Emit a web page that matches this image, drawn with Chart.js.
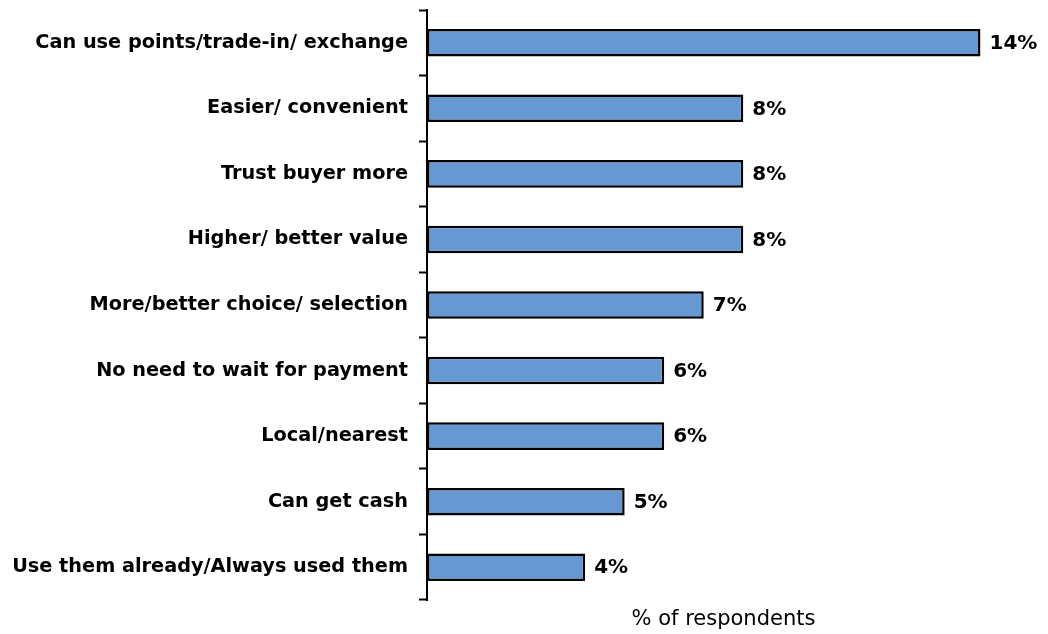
<!DOCTYPE html>
<html>
<head>
<meta charset="utf-8">
<script src="https://cdn.jsdelivr.net/npm/chart.js@4"></script>
<style>
    html, body { margin: 0; padding: 0; background: #ffffff; }
    #wrap { width: 1048px; height: 634px; }
</style>
</head>
<body>
<div id="wrap"><canvas id="reasonsChart"></canvas></div>
<script>
// Reasons for choosing the buyer (% of respondents)
const categories = [
    'Can use points/trade-in/ exchange',
    'Easier/ convenient',
    'Trust buyer more',
    'Higher/ better value',
    'More/better choice/ selection',
    'No need to wait for payment',
    'Local/nearest',
    'Can get cash',
    'Use them already/Always used them'
];
const shares = [14, 8, 8, 8, 7, 6, 6, 5, 4];
const axisTitle = '% of respondents';

const fontFamily = '"DejaVu Sans", Verdana, sans-serif';
const labelFont = 'bold 20px ' + fontFamily;

// Writes "N%" just past the end of each bar
const valueLabels = {
    id: 'valueLabels',
    afterDatasetsDraw(chart) {
        const ctx = chart.ctx;
        const meta = chart.getDatasetMeta(0);
        ctx.save();
        ctx.font = labelFont;
        ctx.fillStyle = '#000';
        ctx.textAlign = 'left';
        ctx.textBaseline = 'middle';
        meta.data.forEach((bar, i) => {
            ctx.fillText(shares[i] + '%', bar.x + 9, bar.y + 1);
        });
        ctx.restore();
    }
};

new Chart(document.getElementById('reasonsChart'), {
    type: 'bar',
    data: {
        labels: categories,
        datasets: [{
            data: shares,
            backgroundColor: '#6699d1',
            borderColor: '#000000',
            borderWidth: 2.5,
            borderSkipped: false,
            barPercentage: 0.42,
            categoryPercentage: 1
        }]
    },
    options: {
        indexAxis: 'y',
        responsive: true,
        maintainAspectRatio: false,
        animation: false,
        layout: { padding: { top: 10, right: 28, bottom: 0, left: 0 } },
        plugins: {
            legend: { display: false },
            tooltip: { enabled: false }
        },
        scales: {
            x: {
                min: 0,
                max: 15,
                grid: { display: false, drawTicks: false },
                border: { display: false },
                ticks: { display: false },
                title: {
                    display: true,
                    text: axisTitle,
                    color: '#000',
                    font: { family: fontFamily, size: 21 },
                    padding: { top: 4, bottom: 2 }
                },
                afterFit(scale) {
                    scale.height = 34;
                    scale.paddingLeft = 0;
                    scale.paddingRight = 0;
                }
            },
            y: {
                grid: {
                    offset: true,
                    drawOnChartArea: false,
                    drawTicks: true,
                    tickLength: 8,
                    tickWidth: 2,
                    tickColor: '#000'
                },
                border: { display: true, color: '#000', width: 2 },
                ticks: {
                    color: '#000',
                    padding: 11,
                    autoSkip: false,
                    font: { family: fontFamily, size: 19.3, weight: 'bold' }
                },
                afterFit(scale) {
                    scale.width = 427;
                    scale.paddingTop = 0;
                    scale.paddingBottom = 0;
                }
            }
        }
    },
    plugins: [valueLabels]
});
</script>
</body>
</html>
